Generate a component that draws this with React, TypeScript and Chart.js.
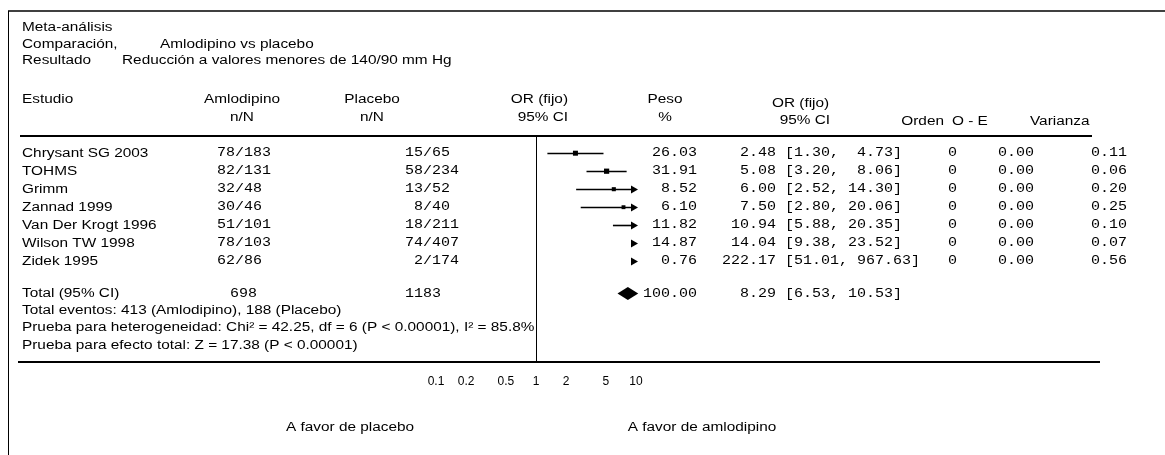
import { useEffect, useRef } from "react";
import { Chart, registerables } from "chart.js";

Chart.register(...registerables);

// Study-level data
const studies = [
  "Chrysant SG 2003",
  "TOHMS",
  "Grimm",
  "Zannad 1999",
  "Van Der Krogt 1996",
  "Wilson TW 1998",
  "Zidek 1995",
];
const amloEvents = [78, 82, 32, 30, 51, 78, 62];
const amloTotal = [183, 131, 48, 46, 101, 103, 86];
const placeboEvents = [15, 58, 13, 8, 18, 74, 2];
const placeboTotal = [65, 234, 52, 40, 211, 407, 174];
const weights = [26.03, 31.91, 8.52, 6.1, 11.82, 14.87, 0.76];
const oddsRatio = [2.48, 5.08, 6.0, 7.5, 10.94, 14.04, 222.17];
const ciLow = [1.3, 3.2, 2.52, 2.8, 5.88, 9.38, 51.01];
const ciHigh = [4.73, 8.06, 14.3, 20.06, 20.35, 23.52, 967.63];
const orden = [0, 0, 0, 0, 0, 0, 0];
const oMinusE = [0, 0, 0, 0, 0, 0, 0];
const varianza = [0.11, 0.06, 0.2, 0.25, 0.1, 0.07, 0.56];

// Pooled result
const pooledOR = 8.29;
const pooledLow = 6.53;
const pooledHigh = 10.53;
const pooledWeight = 100.0;
const chiSq = "42.25";
const df = 6;
const iSq = "85.8%";
const zValue = "17.38";

// Axis
const tickValues = [0.1, 0.2, 0.5, 1, 2, 5, 10];
const tickLabels = ["0.1", "0.2", "0.5", "1", "2", "5", "10"];

const W = 1165;
const H = 455;
const X_MIN = 0.1;
const X_MAX = 10;

const SANS = "'Liberation Sans', Arial, sans-serif";
const MONO = "'Liberation Mono', 'DejaVu Sans Mono', monospace";
// the printed table uses wide-set type
const SANS_STRETCH = 1.28;
const MONO_STRETCH = 1.25;

const TOTAL_ROW = 7.8;
const EVENTS_ROW = 8.75;
const HETERO_ROW = 9.7;
const EFFECT_ROW = 10.7;

const f2 = (v: number) => v.toFixed(2);
const pad = (s: string, n: number) => s.padStart(n, " ");

const forestPlugin = {
  id: "forest",
  beforeDraw(chart: any) {
    const ctx = chart.ctx as CanvasRenderingContext2D;
    ctx.save();
    ctx.fillStyle = "#fff";
    ctx.fillRect(0, 0, W, H);
    ctx.restore();
  },
  beforeDatasetsDraw(chart: any) {
    const ctx = chart.ctx as CanvasRenderingContext2D;
    const x = chart.scales.x;
    const y = chart.scales.y;
    const area = chart.chartArea;
    const xR = x.getPixelForValue(X_MAX);
    ctx.save();
    ctx.strokeStyle = "#000";
    ctx.fillStyle = "#000";

    // line of no effect
    const x1 = Math.round(x.getPixelForValue(1)) + 0.5;
    ctx.lineWidth = 1;
    ctx.beginPath();
    ctx.moveTo(x1, area.top);
    ctx.lineTo(x1, area.bottom);
    ctx.stroke();

    // confidence intervals, arrow where the interval runs past the axis
    studies.forEach((_, i) => {
      const py = Math.round(y.getPixelForValue(i)) + 0.5;
      const lo = Math.max(ciLow[i], X_MIN);
      const hi = Math.min(ciHigh[i], X_MAX);
      const clipped = ciHigh[i] > X_MAX;
      const tip = xR + 2;
      if (lo < hi) {
        ctx.lineWidth = 1.6;
        ctx.beginPath();
        ctx.moveTo(x.getPixelForValue(lo), py);
        ctx.lineTo(clipped ? tip - 4 : x.getPixelForValue(hi), py);
        ctx.stroke();
      }
      if (clipped) {
        ctx.beginPath();
        ctx.moveTo(tip, py);
        ctx.lineTo(tip - 7, py - 4);
        ctx.lineTo(tip - 7, py + 4);
        ctx.closePath();
        ctx.fill();
      }
    });

    // pooled diamond
    const dy = y.getPixelForValue(TOTAL_ROW);
    const dl = x.getPixelForValue(pooledLow);
    const dc = x.getPixelForValue(pooledOR);
    const dr = x.getPixelForValue(pooledHigh);
    ctx.beginPath();
    ctx.moveTo(dl, dy);
    ctx.lineTo(dc, dy - 6.5);
    ctx.lineTo(dr, dy);
    ctx.lineTo(dc, dy + 6.5);
    ctx.closePath();
    ctx.fill();
    ctx.restore();
  },
  afterDraw(chart: any) {
    const ctx = chart.ctx as CanvasRenderingContext2D;
    const y = chart.scales.y;
    const area = chart.chartArea;
    ctx.save();
    ctx.strokeStyle = "#000";
    ctx.fillStyle = "#000";

    // frame and rules
    ctx.lineWidth = 1.5;
    ctx.beginPath();
    ctx.moveTo(8, 11);
    ctx.lineTo(W, 11);
    ctx.stroke();
    ctx.lineWidth = 1;
    ctx.beginPath();
    ctx.moveTo(8.5, 11);
    ctx.lineTo(8.5, H);
    ctx.stroke();
    ctx.lineWidth = 2;
    ctx.beginPath();
    ctx.moveTo(20, area.top - 1);
    ctx.lineTo(1092, area.top - 1);
    ctx.stroke();
    ctx.beginPath();
    ctx.moveTo(18, area.bottom);
    ctx.lineTo(1100, area.bottom);
    ctx.stroke();

    const draw = (
      s: string,
      px: number,
      py: number,
      font: string,
      stretch: number,
      align: CanvasTextAlign
    ) => {
      ctx.save();
      ctx.font = font;
      ctx.textAlign = align;
      ctx.textBaseline = "middle";
      ctx.translate(px, py);
      ctx.scale(stretch, 1);
      ctx.fillText(s, 0, 0);
      ctx.restore();
    };
    const sans = (s: string, px: number, py: number, align: CanvasTextAlign = "left") =>
      draw(s, px, py, `12px ${SANS}`, SANS_STRETCH, align);
    const mono = (s: string, px: number, py: number, align: CanvasTextAlign = "left") =>
      draw(s, px, py, `12px ${MONO}`, MONO_STRETCH, align);

    // title block
    sans("Meta-análisis", 22, 28);
    sans("Comparación,", 22, 45);
    sans("Amlodipino vs placebo", 160, 45);
    sans("Resultado", 22, 61);
    sans("Reducción a valores menores de 140/90 mm Hg", 122, 61);

    // column headers
    sans("Estudio", 22, 100);
    sans("Amlodipino", 242, 100, "center");
    sans("n/N", 242, 118, "center");
    sans("Placebo", 372, 100, "center");
    sans("n/N", 372, 118, "center");
    sans("OR (fijo)", 568, 100, "right");
    sans("95% CI", 568, 118, "right");
    sans("Peso", 665, 100, "center");
    sans("%", 665, 118, "center");
    sans("OR (fijo)", 772, 104);
    sans("95% CI", 830, 121, "right");
    sans("Orden", 944, 122, "right");
    sans("O - E", 952, 122);
    sans("Varianza", 1030, 122);

    // study rows
    studies.forEach((name, i) => {
      const py = y.getPixelForValue(i);
      sans(name, 22, py);
      mono(`${pad(String(amloEvents[i]), 2)}/${amloTotal[i]}`, 217, py);
      mono(`${pad(String(placeboEvents[i]), 2)}/${placeboTotal[i]}`, 405, py);
      mono(f2(weights[i]), 697, py, "right");
      mono(`${pad(f2(oddsRatio[i]), 6)} [${f2(ciLow[i])}, ${pad(f2(ciHigh[i]), 5)}]`, 722, py);
      mono(String(orden[i]), 948, py);
      mono(f2(oMinusE[i]), 998, py);
      mono(f2(varianza[i]), 1091, py);
    });

    // totals
    const sum = (a: number[]) => a.reduce((s, v) => s + v, 0);
    const ty = y.getPixelForValue(TOTAL_ROW);
    sans("Total (95% CI)", 22, ty);
    mono(String(sum(amloTotal)), 230, ty);
    mono(String(sum(placeboTotal)), 405, ty);
    mono(f2(pooledWeight), 697, ty, "right");
    mono(`${pad(f2(pooledOR), 6)} [${f2(pooledLow)}, ${pad(f2(pooledHigh), 5)}]`, 722, ty);
    sans(
      `Total eventos: ${sum(amloEvents)} (Amlodipino), ${sum(placeboEvents)} (Placebo)`,
      22,
      y.getPixelForValue(EVENTS_ROW)
    );
    sans(
      `Prueba para heterogeneidad: Chi² = ${chiSq}, df = ${df} (P < 0.00001), I² = ${iSq}`,
      22,
      y.getPixelForValue(HETERO_ROW)
    );
    sans(`Prueba para efecto total: Z = ${zValue} (P < 0.00001)`, 22, y.getPixelForValue(EFFECT_ROW));

    // favours labels
    sans("A favor de placebo", 350, 428, "center");
    sans("A favor de amlodipino", 702, 428, "center");
    ctx.restore();
  },
};

export default function App() {
  const ref = useRef<HTMLCanvasElement>(null);
  useEffect(() => {
    const canvas = ref.current!;
    const chart = new Chart(canvas, {
      type: "scatter",
      data: {
        datasets: [
          {
            data: studies
              .map((_, i) => ({ x: oddsRatio[i], y: i, w: weights[i] }))
              .filter((p) => p.x <= X_MAX),
            pointStyle: "rect",
            pointRadius: (c: any) => 2 + 0.3 * Math.sqrt((c.raw && c.raw.w) || 0),
            backgroundColor: "#000",
            borderColor: "#000",
            borderWidth: 0,
          } as any,
        ],
      },
      options: {
        responsive: false,
        animation: false,
        events: [],
        layout: { padding: { left: 436, right: W - 636, top: 137, bottom: 63 } },
        plugins: { legend: { display: false }, tooltip: { enabled: false } },
        scales: {
          x: {
            type: "logarithmic",
            min: X_MIN,
            max: X_MAX,
            afterBuildTicks: (s: any) => {
              s.ticks = tickValues.map((v) => ({ value: v }));
            },
            afterFit: (s: any) => {
              s.height = 30;
            },
            grid: { display: false, drawTicks: false },
            border: { display: false },
            ticks: {
              padding: 12,
              autoSkip: false,
              maxRotation: 0,
              color: "#000",
              font: { family: SANS, size: 12 },
              callback: (_v: any, i: number) => tickLabels[i],
            },
          },
          y: { type: "linear", min: -0.9, max: 11.6, reverse: true, display: false },
        },
      },
      plugins: [forestPlugin],
    });
    return () => chart.destroy();
  }, []);
  return (
    <div style={{ position: "fixed", left: 0, top: 0, width: W, height: H, background: "#fff" }}>
      <canvas ref={ref} width={W} height={H} style={{ display: "block" }} />
    </div>
  );
}
